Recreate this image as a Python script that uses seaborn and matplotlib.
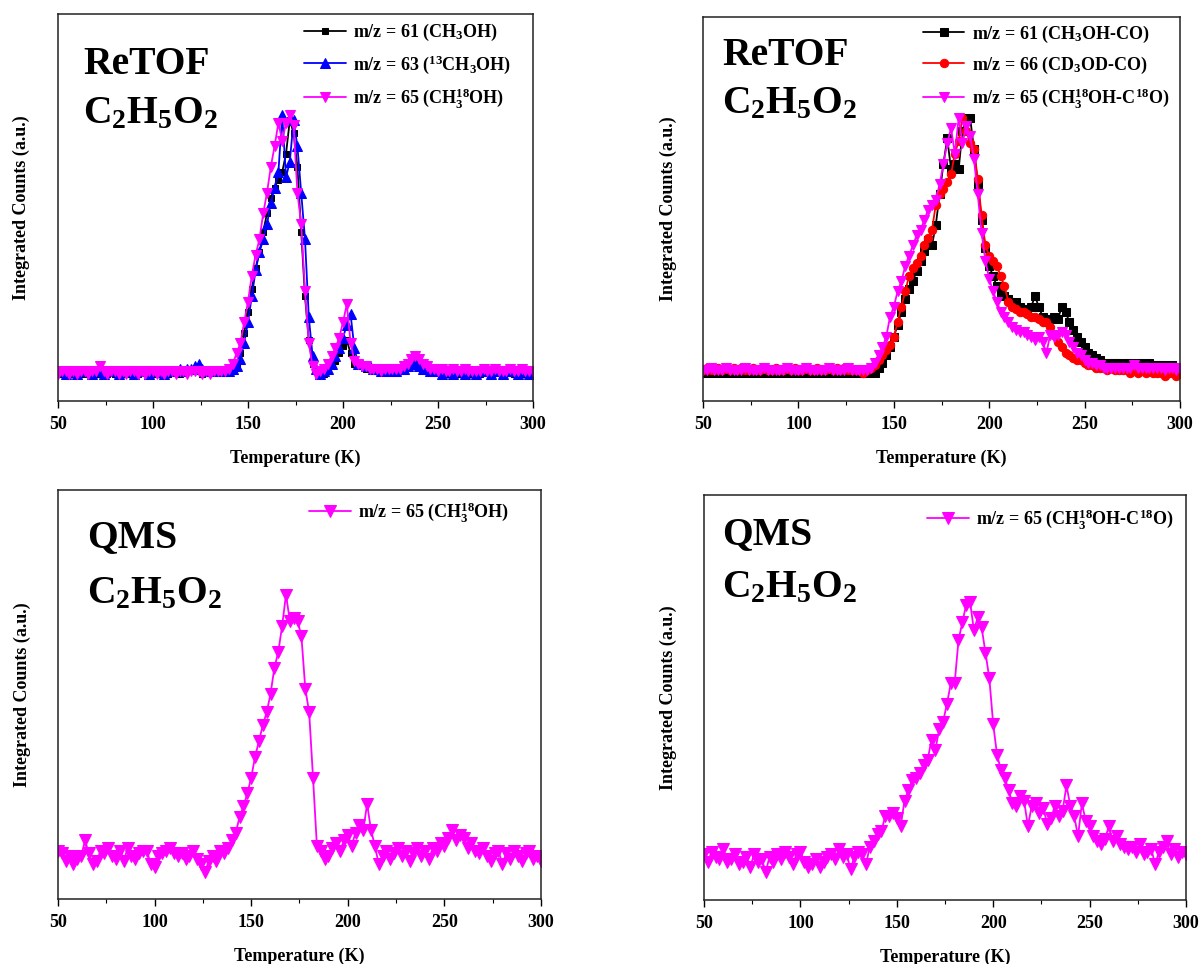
import matplotlib
matplotlib.use("Agg")
import matplotlib.pyplot as plt
import seaborn as sns

# ---------------- data ----------------
temps = [50, 52, 54, 56, 58, 60, 62, 64, 66, 68,
         70, 72, 74, 76, 78, 80, 82, 84, 86, 88,
         90, 92, 94, 96, 98, 100, 102, 104, 106, 108,
         110, 112, 114, 116, 118, 120, 122, 124, 126, 128,
         130, 132, 134, 136, 138, 140, 142, 144, 146, 148,
         150, 152, 154, 156, 158, 160, 162, 164, 166, 168,
         170, 172, 174, 176, 178, 180, 182, 184, 186, 188,
         190, 192, 194, 196, 198, 200, 202, 204, 206, 208,
         210, 212, 214, 216, 218, 220, 222, 224, 226, 228,
         230, 232, 234, 236, 238, 240, 242, 244, 246, 248,
         250, 252, 254, 256, 258, 260, 262, 264, 266, 268,
         270, 272, 274, 276, 278, 280, 282, 284, 286, 288,
         290, 292, 294, 296, 298, 300]

# Top-left: ReTOF, CH3OH
retof_ch3oh_m61 = [0.01, 0.00, 0.01, 0.00, 0.01, 0.01, 0.00, 0.01, 0.00, 0.01,
                   0.00, 0.01, 0.01, 0.00, 0.01, 0.00, 0.01, 0.01, 0.00, 0.01,
                   0.01, 0.00, 0.01, 0.01, 0.00, 0.01, 0.00, 0.01, 0.01, 0.00,
                   0.01, 0.01, 0.00, 0.01, 0.01, 0.02, 0.01, 0.01, 0.00, 0.01,
                   0.01, 0.01, 0.01, 0.01, 0.01, 0.01, 0.02, 0.04, 0.08, 0.16,
                   0.24, 0.33, 0.41, 0.47, 0.55, 0.62, 0.68, 0.72, 0.75, 0.78,
                   0.85, 0.98, 0.93, 0.80, 0.55, 0.30, 0.13, 0.04, 0.01, 0.00,
                   0.00, 0.01, 0.03, 0.05, 0.08, 0.11, 0.13, 0.08, 0.04, 0.03,
                   0.03, 0.02, 0.02, 0.01, 0.01, 0.02, 0.02, 0.01, 0.02, 0.02,
                   0.02, 0.03, 0.04, 0.05, 0.05, 0.04, 0.03, 0.02, 0.01, 0.01,
                   0.01, 0.01, 0.00, 0.01, 0.01, 0.00, 0.01, 0.01, 0.00, 0.01,
                   0.01, 0.00, 0.01, 0.01, 0.00, 0.01, 0.01, 0.00, 0.01, 0.01,
                   0.00, 0.01, 0.01, 0.00, 0.01, 0.01]
retof_ch3oh_m63 = [0.01, 0.01, 0.00, 0.01, 0.01, 0.00, 0.01, 0.01, 0.01, 0.00,
                   0.01, 0.01, 0.00, 0.01, 0.01, 0.01, 0.00, 0.01, 0.01, 0.01,
                   0.00, 0.01, 0.01, 0.01, 0.00, 0.01, 0.01, 0.01, 0.00, 0.01,
                   0.01, 0.01, 0.02, 0.01, 0.02, 0.02, 0.03, 0.04, 0.02, 0.01,
                   0.01, 0.01, 0.01, 0.01, 0.01, 0.01, 0.02, 0.03, 0.06, 0.12,
                   0.20, 0.30, 0.40, 0.47, 0.52, 0.58, 0.66, 0.72, 0.78, 1.00,
                   0.76, 0.82, 0.98, 0.88, 0.70, 0.52, 0.22, 0.07, 0.02, 0.00,
                   0.01, 0.02, 0.04, 0.07, 0.10, 0.14, 0.19, 0.23, 0.10, 0.04,
                   0.04, 0.03, 0.03, 0.02, 0.02, 0.01, 0.01, 0.02, 0.01, 0.01,
                   0.02, 0.02, 0.03, 0.04, 0.04, 0.03, 0.02, 0.02, 0.01, 0.01,
                   0.01, 0.00, 0.01, 0.01, 0.00, 0.01, 0.01, 0.00, 0.01, 0.01,
                   0.00, 0.01, 0.01, 0.01, 0.00, 0.01, 0.01, 0.00, 0.01, 0.01,
                   0.01, 0.00, 0.01, 0.01, 0.00, 0.01]
retof_ch3oh_m65 = [0.00, 0.01, 0.01, 0.00, 0.01, 0.00, 0.01, 0.01, 0.00, 0.01,
                   0.01, 0.03, 0.01, 0.00, 0.01, 0.01, 0.00, 0.01, 0.00, 0.01,
                   0.01, 0.00, 0.01, 0.00, 0.01, 0.01, 0.00, 0.01, 0.00, 0.01,
                   0.01, 0.00, 0.01, 0.01, 0.00, 0.01, 0.01, 0.01, 0.00, 0.01,
                   0.00, 0.01, 0.01, 0.01, 0.01, 0.02, 0.04, 0.08, 0.12, 0.20,
                   0.28, 0.38, 0.46, 0.52, 0.62, 0.70, 0.80, 0.88, 0.97, 0.90,
                   0.97, 1.00, 0.96, 0.70, 0.58, 0.32, 0.12, 0.03, 0.00, 0.01,
                   0.02, 0.04, 0.07, 0.10, 0.14, 0.20, 0.27, 0.12, 0.05, 0.04,
                   0.03, 0.03, 0.02, 0.02, 0.02, 0.01, 0.02, 0.02, 0.02, 0.02,
                   0.02, 0.03, 0.04, 0.06, 0.07, 0.06, 0.04, 0.03, 0.02, 0.02,
                   0.01, 0.02, 0.01, 0.01, 0.02, 0.01, 0.01, 0.02, 0.01, 0.01,
                   0.01, 0.01, 0.02, 0.01, 0.01, 0.02, 0.01, 0.01, 0.01, 0.02,
                   0.01, 0.01, 0.02, 0.01, 0.01, 0.01]

# Top-right: ReTOF, CH3OH-CO
retof_co_m61 = [0.01, 0.00, 0.01, 0.00, 0.01, 0.00, 0.01, 0.00, 0.01, 0.00,
                0.01, 0.00, 0.01, 0.00, 0.01, 0.00, 0.01, 0.00, 0.01, 0.00,
                0.01, 0.00, 0.01, 0.00, 0.01, 0.00, 0.01, 0.00, 0.01, 0.00,
                0.01, 0.00, 0.01, 0.00, 0.01, 0.00, 0.01, 0.00, 0.01, 0.00,
                0.01, 0.00, 0.01, 0.00, 0.01, 0.00, 0.02, 0.04, 0.07, 0.10,
                0.14, 0.19, 0.24, 0.29, 0.33, 0.36, 0.40, 0.44, 0.48, 0.52,
                0.50, 0.58, 0.70, 0.82, 0.92, 0.80, 0.82, 0.80, 0.95, 1.00,
                1.00, 0.88, 0.74, 0.60, 0.49, 0.42, 0.38, 0.34, 0.31, 0.30,
                0.29, 0.28, 0.28, 0.26, 0.25, 0.24, 0.26, 0.30, 0.26, 0.22,
                0.20, 0.21, 0.22, 0.21, 0.26, 0.24, 0.20, 0.17, 0.14, 0.12,
                0.10, 0.08, 0.07, 0.06, 0.05, 0.04, 0.04, 0.04, 0.04, 0.04,
                0.03, 0.04, 0.04, 0.03, 0.04, 0.04, 0.03, 0.04, 0.03, 0.03,
                0.03, 0.03, 0.02, 0.03, 0.02, 0.02]
retof_co_m66 = [0.01, 0.02, 0.01, 0.01, 0.02, 0.01, 0.02, 0.01, 0.02, 0.01,
                0.02, 0.01, 0.01, 0.02, 0.01, 0.01, 0.02, 0.01, 0.01, 0.02,
                0.01, 0.01, 0.02, 0.01, 0.02, 0.01, 0.01, 0.02, 0.01, 0.01,
                0.02, 0.01, 0.01, 0.02, 0.01, 0.02, 0.01, 0.02, 0.01, 0.01,
                0.01, 0.01, 0.00, 0.01, 0.02, 0.03, 0.05, 0.07, 0.09, 0.11,
                0.14, 0.20, 0.26, 0.32, 0.38, 0.41, 0.43, 0.46, 0.50, 0.53,
                0.56, 0.66, 0.70, 0.72, 0.75, 0.78, 0.86, 0.91, 1.00, 0.95,
                0.90, 0.88, 0.76, 0.62, 0.50, 0.46, 0.44, 0.42, 0.38, 0.34,
                0.28, 0.26, 0.25, 0.24, 0.24, 0.23, 0.22, 0.22, 0.21, 0.20,
                0.20, 0.18, 0.15, 0.12, 0.10, 0.08, 0.07, 0.06, 0.05, 0.05,
                0.04, 0.03, 0.03, 0.02, 0.02, 0.02, 0.01, 0.02, 0.01, 0.01,
                0.01, 0.01, 0.00, 0.01, 0.00, 0.01, 0.00, 0.01, 0.00, 0.00,
                0.00, -0.01, 0.00, 0.00, -0.01, 0.00]
retof_co_m65 = [0.01, 0.01, 0.02, 0.01, 0.01, 0.01, 0.02, 0.01, 0.01, 0.01,
                0.01, 0.02, 0.01, 0.01, 0.01, 0.01, 0.02, 0.01, 0.01, 0.01,
                0.01, 0.01, 0.02, 0.01, 0.01, 0.01, 0.01, 0.02, 0.01, 0.01,
                0.01, 0.01, 0.01, 0.02, 0.01, 0.01, 0.01, 0.01, 0.02, 0.01,
                0.01, 0.01, 0.01, 0.01, 0.02, 0.04, 0.07, 0.10, 0.14, 0.22,
                0.26, 0.32, 0.36, 0.42, 0.46, 0.50, 0.54, 0.56, 0.60, 0.64,
                0.66, 0.68, 0.74, 0.82, 0.90, 0.96, 0.86, 1.00, 0.90, 0.97,
                0.93, 0.84, 0.70, 0.55, 0.44, 0.37, 0.32, 0.28, 0.24, 0.22,
                0.20, 0.18, 0.17, 0.16, 0.16, 0.15, 0.14, 0.13, 0.14, 0.12,
                0.08, 0.15, 0.14, 0.15, 0.16, 0.15, 0.12, 0.10, 0.08, 0.07,
                0.05, 0.04, 0.04, 0.03, 0.03, 0.02, 0.02, 0.02, 0.02, 0.02,
                0.02, 0.02, 0.02, 0.03, 0.02, 0.02, 0.02, 0.02, 0.02, 0.02,
                0.02, 0.01, 0.02, 0.02, 0.01, 0.02]

# Bottom-left: QMS, CH3(18)OH
qms_ch3oh_m65 = [0.02, 0.01, -0.02, 0.00, -0.03, -0.01, 0.00, 0.06, 0.01, -0.03,
                 -0.02, 0.02, 0.01, 0.03, 0.00, -0.01, 0.02, -0.02, 0.03, 0.00,
                 -0.01, 0.01, 0.02, 0.02, -0.03, -0.04, 0.00, 0.01, 0.02, 0.03,
                 0.01, 0.00, 0.01, -0.01, 0.00, 0.02, -0.01, -0.03, -0.06, -0.02,
                 0.00, -0.02, 0.02, 0.01, 0.03, 0.06, 0.09, 0.15, 0.19, 0.24,
                 0.30, 0.38, 0.44, 0.50, 0.55, 0.62, 0.72, 0.78, 0.88, 1.00,
                 0.90, 0.91, 0.90, 0.84, 0.64, 0.55, 0.30, 0.04, 0.02, -0.01,
                 0.00, 0.03, 0.05, 0.02, 0.06, 0.08, 0.04, 0.09, 0.12, 0.10,
                 0.20, 0.10, 0.04, -0.03, 0.00, 0.02, -0.01, 0.01, 0.03, 0.00,
                 0.02, -0.02, 0.01, 0.03, 0.00, 0.02, -0.01, 0.03, 0.02, 0.05,
                 0.04, 0.07, 0.10, 0.06, 0.08, 0.07, 0.03, 0.05, 0.02, 0.01,
                 0.03, 0.00, -0.02, 0.01, 0.02, -0.03, 0.01, -0.01, 0.02, 0.00,
                 -0.02, 0.01, 0.02, -0.01, 0.00, -0.02]

# Bottom-right: QMS, CH3(18)OH-C(18)O
qms_co_m65 = [0.01, -0.02, 0.02, 0.00, -0.01, 0.03, -0.02, -0.01, 0.01, -0.03,
              -0.02, 0.00, -0.04, 0.01, -0.02, -0.01, -0.06, 0.00, -0.02, 0.01,
              -0.01, 0.02, 0.00, -0.03, 0.01, 0.02, -0.02, -0.04, -0.03, -0.01,
              -0.04, -0.02, 0.00, 0.01, -0.01, 0.03, 0.00, 0.01, -0.05, 0.00,
              0.02, 0.01, -0.03, 0.04, 0.06, 0.09, 0.10, 0.16, 0.16, 0.17,
              0.15, 0.12, 0.22, 0.26, 0.30, 0.31, 0.33, 0.36, 0.38, 0.46,
              0.42, 0.50, 0.53, 0.60, 0.68, 0.68, 0.85, 0.92, 0.99, 1.00,
              0.89, 0.94, 0.90, 0.80, 0.70, 0.52, 0.40, 0.34, 0.31, 0.26,
              0.21, 0.20, 0.24, 0.22, 0.12, 0.20, 0.21, 0.17, 0.19, 0.13,
              0.15, 0.20, 0.16, 0.18, 0.28, 0.20, 0.16, 0.08, 0.21, 0.14,
              0.12, 0.08, 0.06, 0.05, 0.07, 0.12, 0.06, 0.08, 0.05, 0.04,
              0.03, 0.04, 0.02, 0.05, 0.01, 0.02, 0.03, -0.03, 0.02, 0.04,
              0.06, 0.01, 0.03, 0.00, 0.02, 0.01]

xticks = [50, 100, 150, 200, 250, 300]

# ---------------- style ----------------
sns.set_style("ticks")
plt.rcParams["font.family"] = ["Liberation Serif", "DejaVu Serif"]
plt.rcParams["font.weight"] = "bold"
plt.rcParams["axes.labelweight"] = "bold"
plt.rcParams["mathtext.fontset"] = "custom"
plt.rcParams["mathtext.rm"] = "Liberation Serif:bold"
plt.rcParams["mathtext.it"] = "Liberation Serif:bold:italic"
plt.rcParams["mathtext.bf"] = "Liberation Serif:bold"
plt.rcParams["mathtext.default"] = "regular"
plt.rcParams["text.color"] = "black"
plt.rcParams["axes.labelcolor"] = "black"
plt.rcParams["xtick.color"] = "black"

W, H = 1200, 964
fig = plt.figure(figsize=(W / 100, H / 100), dpi=100)
fig.patch.set_facecolor("white")


def make_axes(left, top, right, bottom):
    return fig.add_axes([left / W, (H - bottom) / H, (right - left) / W, (bottom - top) / H])


panels = [
    dict(box=(58, 14, 533, 401), ylim=(-0.104, 1.39), ylab=-0.058,
         title="ReTOF", tpos=(25, -60, -109),
         series=[(retof_ch3oh_m61, "black", "s", 5.0, r"m/z = 61 (CH$_3$OH)"),
                 (retof_ch3oh_m63, "#0000FF", "^", 6.5, r"m/z = 63 ($^{13}$CH$_3$OH)"),
                 (retof_ch3oh_m65, "#FF00FF", "v", 6.5, r"m/z = 65 (CH$_3^{18}$OH)")],
         leg=(0.518, 0.979)),
    dict(box=(703, 17, 1180, 401), ylim=(-0.11, 1.396), ylab=-0.054,
         title="ReTOF", tpos=(19, -48, -96),
         series=[(retof_co_m61, "black", "s", 5.5, r"m/z = 61 (CH$_3$OH-CO)"),
                 (retof_co_m66, "#FF0000", "o", 6.0, r"m/z = 66 (CD$_3$OD-CO)"),
                 (retof_co_m65, "#FF00FF", "v", 6.5, r"m/z = 65 (CH$_3^{18}$OH-C$^{18}$O)")],
         leg=(0.461, 0.983)),
    dict(box=(58, 490, 541, 899), ylim=(-0.164, 1.40), ylab=-0.056,
         title="QMS", tpos=(29, -57, -113),
         series=[(qms_ch3oh_m65, "#FF00FF", "v", 8.0, r"m/z = 65 (CH$_3^{18}$OH)")],
         leg=(0.520, 0.976)),
    dict(box=(704, 495, 1186, 900), ylim=(-0.17, 1.42), ylab=-0.056,
         title="QMS", tpos=(18, -49, -102),
         series=[(qms_co_m65, "#FF00FF", "v", 8.0, r"m/z = 65 (CH$_3^{18}$OH-C$^{18}$O)")],
         leg=(0.463, 0.970)),
]

for p in panels:
    ax = make_axes(*p["box"])
    ax.set_facecolor("white")
    for vals, col, mk, ms, lab in p["series"]:
        sns.lineplot(x=temps, y=vals, ax=ax, color=col, marker=mk, markersize=ms,
                     markeredgecolor=col, markerfacecolor=col, linewidth=1.3,
                     label=lab, sort=False, errorbar=None)
    ax.set_xlim(50, 300)
    ax.set_ylim(*p["ylim"])
    ax.set_xticks(xticks)
    ax.set_xticks([75, 125, 175, 225, 275], minor=True)
    ax.set_yticks([])
    ax.tick_params(axis="x", which="major", direction="out", length=5, width=1.0,
                   labelsize=13, pad=6, top=False)
    ax.tick_params(axis="x", which="minor", direction="out", length=3, width=0.8, top=False)
    for lbl in ax.get_xticklabels():
        lbl.set_fontweight("bold")
    for s in ax.spines.values():
        s.set_visible(True)
        s.set_linewidth(1.1)
        s.set_color("#222222")
    ax.set_xlabel("Temperature (K)", fontsize=13, fontweight="bold", labelpad=12)
    ax.set_ylabel("Integrated Counts (a.u.)", fontsize=13, fontweight="bold")
    ax.yaxis.set_label_coords(p["ylab"], 0.5)

    dx, y1, y2 = p["tpos"]
    ax.annotate(p["title"], xy=(0, 1), xycoords="axes fraction", xytext=(dx, y1),
                textcoords="offset pixels", fontsize=28.5, fontweight="bold",
                ha="left", va="baseline")
    ax.annotate(r"C$_2$H$_5$O$_2$", xy=(0, 1), xycoords="axes fraction", xytext=(dx, y2),
                textcoords="offset pixels", fontsize=28.5, fontweight="bold",
                ha="left", va="baseline")

    leg = ax.legend(loc="upper left", bbox_to_anchor=p["leg"], frameon=False,
                    fontsize=13, handlelength=2.3, handletextpad=0.4,
                    labelspacing=0.55, borderpad=0, borderaxespad=0, numpoints=1)
    for t in leg.get_texts():
        t.set_fontweight("bold")

fig.savefig("out.png", dpi=100, facecolor="white")
